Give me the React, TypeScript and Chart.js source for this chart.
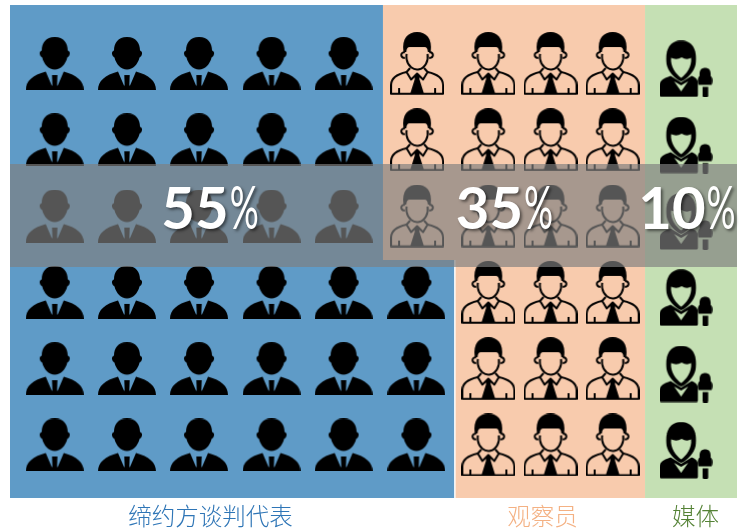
import React, { useEffect, useRef } from "react";
import { Chart, registerables } from "chart.js";

Chart.register(...registerables);

// Groups
const categories = ["缔约方谈判代表", "观察员", "媒体"];
const shares = [55, 35, 10];
const shareLabelX = [27.6, 68.1, 93.2];
const categoryLabelX = [27.58, 73.25, 94.3];

// Seat columns, in percent of the chart width
const delegateColumnsUpper = [6.15, 16.09, 26.0, 35.97, 45.89];
const delegateColumnsLower = [6.15, 16.09, 26.0, 35.97, 45.89, 55.9];
const observerColumnsUpper = [56.0, 65.8, 74.35, 82.9];
const observerColumnsLower = [65.8, 74.35, 82.9];
const mediaColumns = [93.0];

// Seat rows, in row units
const upperRows = [0, 1, 2];
const lowerRows = [3, 4, 5];
const mediaRows = [0.07, 1.07, 2.07, 3.07, 4.07, 5.07];

// Axis extents and region limits
const xRange = [0, 100];
const yRange = [-0.767, 5.695];
const regionSplitY = 2.575;
const bannerY = [1.317, 2.667];
const delegateEdges = [51.3, 61.12];
const observerEdges = [51.3, 61.26, 87.35];

const COLORS = {
  delegate: "#5F9BC7",
  observer: "#F8CBAD",
  media: "#C5E0B4",
  banner: "rgba(127,127,127,0.67)",
  labels: ["#2E75B6", "#F4B183", "#548235"],
};

function makeCanvas(w: number, h: number) {
  const c = document.createElement("canvas");
  c.width = w;
  c.height = h;
  return c;
}

function soften(src: HTMLCanvasElement) {
  const c = makeCanvas(src.width, src.height);
  const g = c.getContext("2d")!;
  g.filter = "blur(0.45px)";
  g.drawImage(src, 0, 0);
  return c;
}

function delegateIcon() {
  const c = makeCanvas(58, 53);
  const g = c.getContext("2d")!;
  g.fillStyle = "#000";
  // head
  g.beginPath();
  g.moveTo(29, 0);
  g.bezierCurveTo(38, 0, 42, 6, 42, 13.5);
  g.quadraticCurveTo(44.5, 14.5, 44, 17);
  g.quadraticCurveTo(43.5, 20, 41.5, 20.5);
  g.bezierCurveTo(40, 27, 35, 32.5, 29, 32.5);
  g.bezierCurveTo(23, 32.5, 18, 27, 16.5, 20.5);
  g.quadraticCurveTo(14.5, 20, 14, 17);
  g.quadraticCurveTo(13.5, 14.5, 16, 13.5);
  g.bezierCurveTo(16, 6, 20, 0, 29, 0);
  g.fill();
  // jacket
  g.beginPath();
  g.moveTo(0, 53);
  g.bezierCurveTo(0, 44, 7, 38, 20, 34.5);
  g.lineTo(26, 48.5);
  g.lineTo(32, 48.5);
  g.lineTo(38, 34.5);
  g.bezierCurveTo(51, 38, 58, 44, 58, 53);
  g.closePath();
  g.fill();
  // tie
  g.beginPath();
  g.moveTo(26.3, 38);
  g.lineTo(31.7, 38);
  g.lineTo(31.3, 49);
  g.lineTo(26.7, 49);
  g.closePath();
  g.fill();
  return soften(c);
}

function observerIcon() {
  const c = makeCanvas(54, 63);
  const g = c.getContext("2d")!;
  g.fillStyle = "#000";
  g.strokeStyle = "#000";
  g.lineWidth = 2;
  g.lineJoin = "round";
  // hair
  g.beginPath();
  g.moveTo(13.4, 20);
  g.bezierCurveTo(11.5, 6, 18, 0, 27, 0);
  g.bezierCurveTo(36, 0, 42.5, 6, 40.6, 20);
  g.lineTo(37.8, 20);
  g.quadraticCurveTo(37.5, 15, 34.5, 15);
  g.lineTo(19.5, 15);
  g.quadraticCurveTo(16.5, 15, 16.2, 20);
  g.closePath();
  g.fill();
  // face
  g.beginPath();
  g.ellipse(27, 24.5, 10.7, 13, 0, -0.2, Math.PI + 0.2);
  g.stroke();
  // ears
  g.beginPath();
  g.arc(14, 23, 2.8, Math.PI * 0.4, Math.PI * 1.6);
  g.stroke();
  g.beginPath();
  g.arc(40, 23, 2.8, -Math.PI * 0.6, Math.PI * 0.6);
  g.stroke();
  // body
  g.beginPath();
  g.moveTo(16.5, 40);
  g.bezierCurveTo(7, 42, 1, 46, 1, 53);
  g.lineTo(1, 61.8);
  g.lineTo(53, 61.8);
  g.lineTo(53, 53);
  g.bezierCurveTo(53, 46, 47, 42, 37.5, 40);
  g.stroke();
  // collar
  g.beginPath();
  g.moveTo(20, 36);
  g.lineTo(16.5, 40);
  g.lineTo(21, 47.5);
  g.lineTo(27, 41.5);
  g.lineTo(33, 47.5);
  g.lineTo(37.5, 40);
  g.lineTo(34, 36);
  g.stroke();
  // tie
  g.beginPath();
  g.moveTo(24, 43);
  g.lineTo(30, 43);
  g.lineTo(29.3, 47);
  g.lineTo(34, 62);
  g.lineTo(20, 62);
  g.lineTo(24.7, 47);
  g.closePath();
  g.fill();
  // cuffs
  g.beginPath();
  g.moveTo(9, 56);
  g.lineTo(9, 61);
  g.moveTo(45, 56);
  g.lineTo(45, 61);
  g.stroke();
  return soften(c);
}

function mediaIcon() {
  const c = makeCanvas(53, 57);
  const g = c.getContext("2d")!;
  g.fillStyle = "#000";
  // hair and head outline
  g.beginPath();
  g.moveTo(7, 24);
  g.bezierCurveTo(5, 8, 11, 0.3, 21.5, 0.3);
  g.bezierCurveTo(32, 0.3, 38, 8, 36, 24);
  g.bezierCurveTo(35, 30, 28, 39, 21.5, 41);
  g.bezierCurveTo(15, 39, 8, 30, 7, 24);
  g.closePath();
  g.fill();
  // face
  g.save();
  g.globalCompositeOperation = "destination-out";
  g.beginPath();
  g.moveTo(11.5, 17.5);
  g.quadraticCurveTo(17, 20, 22, 17);
  g.quadraticCurveTo(27, 20, 31.5, 17.5);
  g.bezierCurveTo(32.5, 26, 26.5, 34, 21.5, 37.5);
  g.bezierCurveTo(16.5, 34, 10.5, 26, 11.5, 17.5);
  g.closePath();
  g.fill();
  g.restore();
  // body
  g.beginPath();
  g.moveTo(0, 55);
  g.lineTo(0, 45);
  g.bezierCurveTo(0, 40, 4, 38, 11, 35.5);
  g.lineTo(21.5, 42);
  g.lineTo(32, 35.5);
  g.bezierCurveTo(36, 37, 38.3, 39, 38.3, 43);
  g.lineTo(38.3, 55);
  g.quadraticCurveTo(38.3, 56.5, 36.8, 56.5);
  g.lineTo(1.5, 56.5);
  g.quadraticCurveTo(0, 56.5, 0, 55);
  g.closePath();
  g.fill();
  // open neck
  g.save();
  g.globalCompositeOperation = "destination-out";
  g.beginPath();
  g.moveTo(14.5, 41);
  g.lineTo(21.5, 45);
  g.lineTo(28.5, 41);
  g.lineTo(21.5, 51);
  g.closePath();
  g.fill();
  g.restore();
  // microphone head
  g.beginPath();
  g.moveTo(39, 44.5);
  g.bezierCurveTo(37.5, 40, 38.5, 36.5, 40, 35.5);
  g.bezierCurveTo(39.5, 30, 41.5, 27.5, 45.5, 27.5);
  g.bezierCurveTo(49.5, 27.5, 51.5, 30, 51, 35.5);
  g.bezierCurveTo(52.5, 36.5, 53.5, 40, 52, 44.5);
  g.closePath();
  g.fill();
  // microphone handle
  g.beginPath();
  g.moveTo(43, 46.5);
  g.lineTo(48.6, 46.5);
  g.lineTo(48.6, 55.5);
  g.quadraticCurveTo(48.6, 57, 47, 57);
  g.lineTo(44.5, 57);
  g.quadraticCurveTo(43, 57, 43, 55.5);
  g.closePath();
  g.fill();
  return soften(c);
}

function seats(columns: number[], rows: number[]) {
  return rows.flatMap((y) => columns.map((x) => ({ x, y })));
}

function region(x0: number, x1: number, y0: number, y1: number, color: string, order: number) {
  return {
    type: "scatter" as const,
    data: [
      { x: x0, y: y0 },
      { x: x1, y: y0 },
    ],
    showLine: true,
    borderWidth: 0,
    borderColor: "transparent",
    pointRadius: 0,
    backgroundColor: color,
    fill: { value: y1 },
    order,
  };
}

function iconSet(data: { x: number; y: number }[], icon: HTMLCanvasElement) {
  return {
    type: "scatter" as const,
    data,
    pointStyle: icon,
    pointRadius: 10,
    showLine: false,
    clip: false,
    order: 1,
  };
}

const shareLabels = {
  id: "shareLabels",
  afterDatasetsDraw(chart: any) {
    const { ctx, scales } = chart;
    ctx.save();
    ctx.fillStyle = "#fff";
    ctx.textBaseline = "alphabetic";
    ctx.shadowColor = "rgba(0,0,0,0.5)";
    ctx.shadowBlur = 3;
    ctx.shadowOffsetX = 2;
    ctx.shadowOffsetY = 2;
    const baseline = scales.y.getPixelForValue(2.17);
    shares.forEach((s, i) => {
      const cx = scales.x.getPixelForValue(shareLabelX[i]);
      ctx.textAlign = "right";
      ctx.font = 'bold 58px "Lato"';
      ctx.fillText(`${s}`, cx + 18, baseline);
      ctx.textAlign = "left";
      ctx.font = '400 60px "Lato"';
      ctx.fillText("%", cx + 19, baseline, 29);
    });
    ctx.restore();
  },
};

export default function App() {
  const ref = useRef<HTMLCanvasElement>(null);

  useEffect(() => {
    const delegate = delegateIcon();
    const observer = observerIcon();
    const media = mediaIcon();
    const chart = new Chart(ref.current!, {
      type: "scatter",
      data: {
        datasets: [
          region(xRange[0], xRange[1], bannerY[0], bannerY[1], COLORS.banner, 0),
          iconSet(
            [...seats(delegateColumnsUpper, upperRows), ...seats(delegateColumnsLower, lowerRows)],
            delegate
          ),
          iconSet(
            [...seats(observerColumnsUpper, upperRows), ...seats(observerColumnsLower, lowerRows)],
            observer
          ),
          iconSet(seats(mediaColumns, mediaRows), media),
          region(xRange[0], delegateEdges[0], yRange[0], regionSplitY, COLORS.delegate, 2),
          region(xRange[0], delegateEdges[1], regionSplitY, yRange[1], COLORS.delegate, 2),
          region(observerEdges[0], observerEdges[2], yRange[0], regionSplitY, COLORS.observer, 2),
          region(observerEdges[1], observerEdges[2], regionSplitY, yRange[1], COLORS.observer, 2),
          region(observerEdges[2], xRange[1], yRange[0], yRange[1], COLORS.media, 2),
        ] as any,
      },
      options: {
        animation: false,
        responsive: false,
        layout: { autoPadding: false, padding: { left: 10, right: 10, top: 5, bottom: 0 } },
        plugins: { legend: { display: false }, tooltip: { enabled: false } },
        scales: {
          x: {
            type: "linear",
            min: xRange[0],
            max: xRange[1],
            grid: { display: false },
            border: { display: false },
            afterFit(axis: any) {
              axis.height = 32;
            },
            afterBuildTicks(axis: any) {
              axis.ticks = categoryLabelX.map((value) => ({ value }));
            },
            ticks: {
              autoSkip: false,
              maxRotation: 0,
              padding: -4,
              font: { family: '"Noto Sans CJK SC"', size: 23.5, weight: 300 },
              color: (c: any) => COLORS.labels[c.index],
              callback: (_v: any, i: number) => categories[i],
            },
          },
          y: {
            type: "linear",
            display: false,
            reverse: true,
            min: yRange[0],
            max: yRange[1],
          },
        },
      },
      plugins: [shareLabels],
    } as any);
    return () => chart.destroy();
  }, []);

  return (
    <canvas
      ref={ref}
      width={747}
      height={530}
      style={{ position: "absolute", left: 0, top: 0, display: "block" }}
    />
  );
}
